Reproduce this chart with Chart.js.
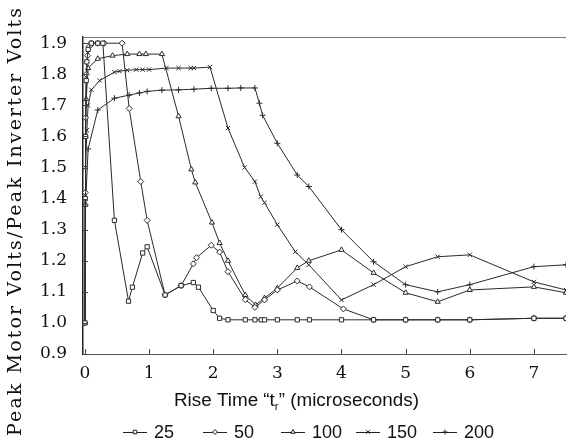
<!DOCTYPE html>
<html>
<head>
<meta charset="utf-8">
<script src="https://cdn.jsdelivr.net/npm/chart.js@4/dist/chart.umd.min.js"></script>
<style>
  body { margin: 0; background: #fff; }
</style>
</head>
<body>
<canvas id="mychart" width="571" height="446"></canvas>
<script>
// series labels (cable length) and marker per series
const seriesNames = ['25', '50', '100', '150', '200'];
const seriesMarkers = ['rect', 'rectRot', 'triangle', 'crossRot', 'cross'];

// rise time (microseconds) / peak volts ratio
const x25 = [0, 0.005, 0.01, 0.02, 0.03, 0.05, 0.1, 0.2, 0.28, 0.46, 0.68, 0.74, 0.9, 0.97, 1.25, 1.5, 1.69, 1.77, 2.0, 2.1, 2.23, 2.5, 2.65, 2.75, 2.8, 3.0, 3.31, 3.5, 4.0, 4.5, 5.0, 5.5, 6.0, 7.0, 7.5];
const y25 = [1.0, 1.4, 1.6, 1.78, 1.84, 1.88, 1.9, 1.9, 1.9, 1.33, 1.07, 1.115, 1.225, 1.245, 1.09, 1.12, 1.13, 1.115, 1.04, 1.015, 1.01, 1.01, 1.01, 1.01, 1.01, 1.01, 1.01, 1.01, 1.01, 1.01, 1.01, 1.01, 1.01, 1.015, 1.015];

const x50 = [0, 0.005, 0.01, 0.02, 0.04, 0.07, 0.1, 0.2, 0.3, 0.58, 0.69, 0.87, 0.97, 1.25, 1.5, 1.69, 1.74, 1.97, 2.1, 2.23, 2.5, 2.65, 2.8, 3.0, 3.31, 3.5, 4.03, 4.5, 5.0, 5.5, 6.0, 7.0, 7.5];
const y50 = [1.0, 1.42, 1.66, 1.8, 1.86, 1.89, 1.9, 1.9, 1.9, 1.9, 1.69, 1.455, 1.33, 1.09, 1.12, 1.19, 1.21, 1.25, 1.228, 1.165, 1.075, 1.05, 1.074, 1.106, 1.135, 1.116, 1.045, 1.01, 1.01, 1.01, 1.01, 1.015, 1.015];

const x100 = [0, 0.005, 0.01, 0.02, 0.05, 0.2, 0.43, 0.66, 0.85, 0.95, 1.2, 1.46, 1.66, 1.72, 1.98, 2.1, 2.23, 2.5, 2.66, 2.8, 3.0, 3.31, 3.49, 4.0, 4.5, 5.0, 5.5, 6.0, 7.0, 7.5];
const y100 = [1.0, 1.38, 1.6, 1.72, 1.82, 1.85, 1.86, 1.865, 1.865, 1.865, 1.865, 1.665, 1.494, 1.452, 1.323, 1.257, 1.2, 1.09, 1.058, 1.08, 1.112, 1.177, 1.2, 1.235, 1.161, 1.097, 1.068, 1.106, 1.116, 1.097];

const x150 = [0, 0.005, 0.01, 0.03, 0.05, 0.1, 0.23, 0.46, 0.54, 0.66, 0.8, 0.9, 1.0, 1.27, 1.46, 1.65, 1.7, 1.95, 2.23, 2.49, 2.65, 2.74, 2.8, 3.0, 3.28, 3.49, 4.0, 4.5, 5.0, 5.5, 6.0, 7.0, 7.5];
const y150 = [1.0, 1.38, 1.5, 1.62, 1.7, 1.75, 1.78, 1.807, 1.81, 1.813, 1.815, 1.815, 1.815, 1.82, 1.82, 1.82, 1.82, 1.823, 1.627, 1.5, 1.455, 1.406, 1.387, 1.316, 1.229, 1.187, 1.074, 1.123, 1.181, 1.213, 1.219, 1.132, 1.106];

const x200 = [0, 0.01, 0.05, 0.2, 0.46, 0.69, 0.85, 0.97, 1.2, 1.46, 1.7, 1.97, 2.23, 2.43, 2.65, 2.72, 2.77, 3.0, 3.31, 3.49, 4.0, 4.5, 5.0, 5.5, 6.0, 7.0, 7.5];
const y200 = [1.0, 1.38, 1.56, 1.685, 1.723, 1.733, 1.74, 1.745, 1.749, 1.75, 1.752, 1.755, 1.755, 1.756, 1.756, 1.707, 1.668, 1.578, 1.476, 1.439, 1.3, 1.197, 1.123, 1.1, 1.123, 1.181, 1.187];

// tick labels
const xTicks = [0, 1, 2, 3, 4, 5, 6, 7];
const yTicks = [0.9, 1.0, 1.1, 1.2, 1.3, 1.4, 1.5, 1.6, 1.7, 1.8, 1.9];

const allX = [x25, x50, x100, x150, x200];
const allY = [y25, y50, y100, y150, y200];

function toPoints(xs, ys) {
    let pts = [];
    for (let i = 0; i < xs.length; i++) {
        pts.push({x: xs[i], y: ys[i]});
    }
    return pts;
}

let datasets = [];
for (let s = 0; s < seriesNames.length; s++) {
    datasets.push({
        label: seriesNames[s],
        data: toPoints(allX[s], allY[s]),
        borderColor: '#2a2a2a',
        borderWidth: 1,
        pointStyle: seriesMarkers[s],
        pointRadius: 3,
        pointBorderColor: '#2a2a2a',
        pointBorderWidth: 1,
        pointBackgroundColor: '#fff',
        tension: 0
    });
}

const serif = '"DejaVu Serif", serif';
const sans = '"Liberation Sans", Arial, sans-serif';

// draw text so it spans a given width (the scanned fonts are wider than ours)
function spacedText(ctx, text, x, y, width) {
    ctx.letterSpacing = '0px';
    let w = ctx.measureText(text).width;
    let sp = (width - w) / text.length;
    ctx.letterSpacing = sp.toFixed(2) + 'px';
    ctx.fillText(text, x, y);
    ctx.letterSpacing = '0px';
}

// ticks pointing into the plot, top frame, axis titles and legend
const extras = {
    id: 'extras',
    afterDraw(chart) {
        const ctx = chart.ctx;
        const xs = chart.scales.x, ys = chart.scales.y;
        const area = chart.chartArea;
        ctx.save();
        ctx.strokeStyle = '#444';
        ctx.lineWidth = 1;
        xTicks.forEach(function (t) {
            let px = Math.round(xs.getPixelForValue(t)) + 0.5;
            ctx.beginPath();
            ctx.moveTo(px, area.bottom);
            ctx.lineTo(px, area.bottom - 5);
            ctx.stroke();
        });
        yTicks.forEach(function (t) {
            let py = Math.round(ys.getPixelForValue(t)) + 0.5;
            ctx.beginPath();
            ctx.moveTo(area.left, py);
            ctx.lineTo(area.left + 5, py);
            ctx.stroke();
        });
        // top frame line
        ctx.strokeStyle = '#777';
        ctx.beginPath();
        ctx.moveTo(area.left, area.top + 0.5);
        ctx.lineTo(area.right, area.top + 0.5);
        ctx.stroke();

        ctx.fillStyle = '#111';
        // y title
        ctx.save();
        ctx.translate(16, 436);
        ctx.rotate(-Math.PI / 2);
        ctx.font = '19px ' + serif;
        ctx.textAlign = 'left';
        ctx.textBaseline = 'middle';
        spacedText(ctx, 'Peak Motor Volts/Peak Inverter Volts', 0, 0, 430);
        ctx.restore();

        // x title with subscript r
        ctx.textBaseline = 'alphabetic';
        ctx.textAlign = 'left';
        const p1 = 'Rise Time \u201Ct', sub = 'r', p2 = '\u201D (microseconds)';
        ctx.font = '18px ' + sans;
        let w1 = ctx.measureText(p1).width;
        let w3 = ctx.measureText(p2).width;
        ctx.font = '11px ' + sans;
        let w2 = ctx.measureText(sub).width;
        let total = w1 + w2 + w3;
        let k = 245 / total;
        let startX = 174;
        ctx.save();
        ctx.translate(startX, 406);
        ctx.scale(k, 1);
        ctx.font = '18px ' + sans;
        ctx.fillText(p1, 0, 0);
        ctx.font = '11px ' + sans;
        ctx.fillText(sub, w1, 4);
        ctx.font = '18px ' + sans;
        ctx.fillText(p2, w1 + w2, 0);
        ctx.restore();

        // legend
        const legendX = [135, 215, 293, 368, 445];
        const ly = 432;
        for (let s = 0; s < seriesNames.length; s++) {
            let cx = legendX[s];
            ctx.strokeStyle = '#222';
            ctx.beginPath();
            ctx.moveTo(cx - 12, ly + 0.5);
            ctx.lineTo(cx + 12, ly + 0.5);
            ctx.stroke();
            ctx.fillStyle = '#fff';
            Chart.helpers.drawPoint(ctx, {pointStyle: seriesMarkers[s], radius: 2.5, rotation: 0, borderWidth: 1}, cx, ly);
            ctx.fillStyle = '#111';
            ctx.font = '18px ' + sans;
            ctx.textBaseline = 'alphabetic';
            ctx.fillText(seriesNames[s], cx + 19, ly + 6);
        }
        ctx.restore();
    }
};

const ctx = document.getElementById('mychart').getContext('2d');
const chart = new Chart(ctx, {
    type: 'line',
    data: { datasets: datasets },
    plugins: [extras],
    options: {
        responsive: false,
        animation: false,
        layout: { padding: { top: 37, right: 0, left: 0, bottom: 0 } },
        plugins: {
            legend: { display: false },
            tooltip: { enabled: false }
        },
        scales: {
            x: {
                type: 'linear',
                min: -0.03,
                max: 7.5,
                afterFit: function (scale) { scale.height = 92; },
                afterBuildTicks: function (scale) {
                    scale.ticks = xTicks.map(function (v) { return {value: v}; });
                },
                grid: { drawOnChartArea: false, drawTicks: false },
                border: { display: true, color: '#555', width: 1 },
                ticks: {
                    padding: 9,
                    color: '#111',
                    font: { family: serif, size: 17 },
                    maxRotation: 0,
                    callback: function (v) { return String(v); }
                }
            },
            y: {
                type: 'linear',
                min: 0.9,
                max: 1.92,
                afterFit: function (scale) { scale.width = 83; },
                afterBuildTicks: function (scale) {
                    scale.ticks = yTicks.map(function (v) { return {value: v}; });
                },
                grid: { drawOnChartArea: false, drawTicks: false },
                border: { display: true, color: '#222', width: 1.5 },
                ticks: {
                    padding: 16,
                    color: '#111',
                    font: { family: serif, size: 17 },
                    callback: function (v) { return v.toFixed(1); }
                }
            }
        }
    }
});
</script>
</body>
</html>
